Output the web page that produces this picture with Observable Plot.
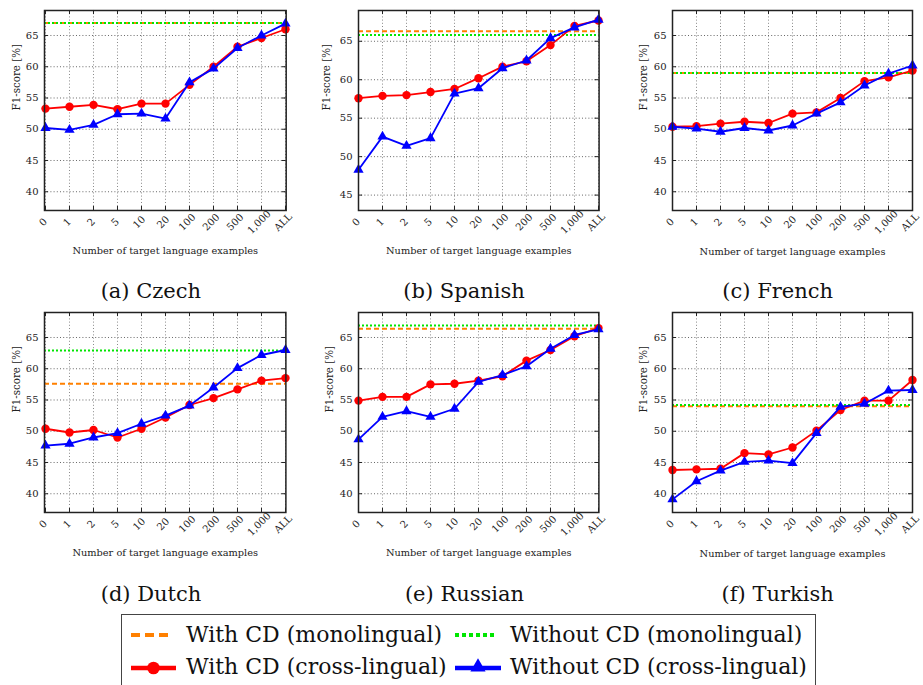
<!DOCTYPE html>
<html>
<head>
<meta charset="utf-8">
<script src="https://cdn.jsdelivr.net/npm/d3@7"></script>
<script src="https://cdn.jsdelivr.net/npm/@observablehq/plot@0.6"></script>
<style>
  html, body { margin: 0; padding: 0; background: #fff; }
  #page { position: relative; width: 923px; height: 685px; overflow: hidden; background: #fff; font-family: "DejaVu Serif", serif; color: #111; }
  .panel { position: absolute; }
  .caption { position: absolute; font-family: "DejaVu Serif", serif; font-size: 21px; color: #111; white-space: nowrap; transform: translate(-50%, -50%); }
  #legend { position: absolute; left: 121px; top: 614px; width: 695px; height: 90px; border: 1.3px solid #444; box-sizing: border-box; }
</style>
</head>
<body>
<div id="page"></div>
<script>
// ---------- data ----------
const xLabels = ["0", "1", "2", "5", "10", "20", "100", "200", "500", "1,000", "ALL"];
const languages = ["Czech", "Spanish", "French", "Dutch", "Russian", "Turkish"];
const panelLetters = ["a", "b", "c", "d", "e", "f"];

const czechWithCD      = [53.3, 53.6, 53.9, 53.2, 54.1, 54.1, 57.1, 60.0, 63.2, 64.6, 66.0];
const czechWithoutCD   = [50.2, 49.9, 50.7, 52.4, 52.5, 51.7, 57.5, 59.7, 63.0, 65.0, 66.9];
const spanishWithCD    = [57.6, 57.9, 58.0, 58.4, 58.8, 60.2, 61.7, 62.4, 64.5, 67.0, 67.7];
const spanishWithoutCD = [48.3, 52.6, 51.4, 52.4, 58.2, 58.9, 61.5, 62.5, 65.4, 66.8, 67.8];
const frenchWithCD     = [50.4, 50.5, 50.9, 51.2, 51.0, 52.5, 52.7, 55.0, 57.7, 58.3, 59.4];
const frenchWithoutCD  = [50.4, 50.1, 49.6, 50.2, 49.8, 50.6, 52.5, 54.3, 57.0, 58.9, 60.2];
const dutchWithCD      = [50.4, 49.8, 50.2, 49.0, 50.4, 52.2, 54.2, 55.3, 56.7, 58.1, 58.5];
const dutchWithoutCD   = [47.7, 48.0, 49.0, 49.7, 51.2, 52.5, 54.1, 57.0, 60.1, 62.2, 63.0];
const russianWithCD    = [54.9, 55.5, 55.5, 57.5, 57.6, 58.1, 58.8, 61.3, 63.0, 65.2, 66.5];
const russianWithoutCD = [48.7, 52.3, 53.2, 52.3, 53.6, 57.9, 59.0, 60.4, 63.2, 65.4, 66.3];
const turkishWithCD    = [43.8, 43.9, 44.0, 46.5, 46.3, 47.4, 50.1, 53.4, 54.9, 54.9, 58.2];
const turkishWithoutCD = [39.1, 42.0, 43.7, 45.1, 45.3, 44.9, 49.7, 53.9, 54.4, 56.5, 56.6];

// monolingual reference values per language (Czech, Spanish, French, Dutch, Russian, Turkish)
const monoWithCD    = [67.0, 66.3, 59.0, 57.6, 66.4, 54.0];
const monoWithoutCD = [67.0, 65.8, 59.0, 62.9, 66.9, 54.2];

const yTicksDefault = [40, 45, 50, 55, 60, 65];
const yTicksSpanish = [45, 50, 55, 60, 65];
const yDomainDefault = [37, 69];
const yDomainSpanish = [43, 69];

const xAxisLabel = "Number of target language examples";
const yAxisLabel = "F1-score [%]";
const legendLabels = ["With CD (monolingual)", "Without CD (monolingual)", "With CD (cross-lingual)", "Without CD (cross-lingual)"];

const withCDSeries = [czechWithCD, spanishWithCD, frenchWithCD, dutchWithCD, russianWithCD, turkishWithCD];
const withoutCDSeries = [czechWithoutCD, spanishWithoutCD, frenchWithoutCD, dutchWithoutCD, russianWithoutCD, turkishWithoutCD];

// ---------- style / layout ----------
const ORANGE = "#ff8000", GREEN = "#00e600", RED = "#ff0000", BLUE = "#0000ff";
const FONT = "DejaVu Serif";
const layout = [
  {left: 44,    top: 10,    fw: 241.7, ylabDx: -28},
  {left: 357.7, top: 10,    fw: 240.6, ylabDx: -32},
  {left: 671.7, top: 10,    fw: 240,   ylabDx: -29},
  {left: 44.3,  top: 311.7, fw: 241.4, ylabDx: -28},
  {left: 358.3, top: 311.7, fw: 240.4, ylabDx: -29},
  {left: 671.7, top: 311.7, fw: 240,   ylabDx: -29}
];
const FH = 200, ML = 46, MT = 10, MB = 54, MR = 11;

const page = document.getElementById("page");

languages.forEach((lang, i) => {
  const L = layout[i];
  const yTicks = i === 1 ? yTicksSpanish : yTicksDefault;
  const yDomain = i === 1 ? yDomainSpanish : yDomainDefault;
  const rows = xLabels.map((x, j) => ({x, withCD: withCDSeries[i][j], withoutCD: withoutCDSeries[i][j]}));
  const fw = L.fw;

  const chart = Plot.plot({
    width: ML + fw + MR,
    height: MT + FH + MB,
    marginLeft: ML, marginRight: MR, marginTop: MT, marginBottom: MB,
    style: {fontFamily: FONT, fontSize: "10px", color: "#222", background: "transparent", overflow: "visible"},
    x: {type: "point", domain: xLabels, padding: 0, axis: null},
    y: {domain: yDomain, axis: null, label: null},
    marks: [
      Plot.ruleX(xLabels, {x: d => d, stroke: "#888", strokeDasharray: "1,2.2", strokeWidth: 1}),
      Plot.ruleY(yTicks, {y: d => d, stroke: "#666", strokeDasharray: "1,2.2", strokeWidth: 1}),
      Plot.tickY(yTicks, {y: d => d, insetRight: fw - 4, stroke: "#222", strokeWidth: 1}),
      Plot.tickY(yTicks, {y: d => d, insetLeft: fw - 4, stroke: "#222", strokeWidth: 1}),
      Plot.tickX(xLabels, {x: d => d, insetTop: FH - 4, stroke: "#222", strokeWidth: 1}),
      Plot.tickX(xLabels, {x: d => d, insetBottom: FH - 4, stroke: "#222", strokeWidth: 1}),
      Plot.ruleY([monoWithCD[i]], {stroke: ORANGE, strokeWidth: 2, strokeDasharray: "5,3"}),
      Plot.ruleY([monoWithoutCD[i]], {stroke: GREEN, strokeWidth: 2, strokeDasharray: "2,2"}),
      Plot.line(rows, {x: "x", y: "withCD", stroke: RED, strokeWidth: 1.8}),
      Plot.dot(rows, {x: "x", y: "withCD", fill: RED, r: 4.2, stroke: "none"}),
      Plot.line(rows, {x: "x", y: "withoutCD", stroke: BLUE, strokeWidth: 1.8}),
      Plot.dot(rows, {x: "x", y: "withoutCD", fill: BLUE, symbol: "triangle", r: 3.8, stroke: "none"}),
      Plot.frame({stroke: "#222", strokeWidth: 1.5}),
      Plot.axisY(yTicks, {tickSize: 0, tickPadding: 6, fontSize: 10, label: null, fill: "#222"}),
      Plot.text(xLabels, {x: d => d, text: d => d, frameAnchor: "bottom", dy: 14, rotate: -45, fontSize: 10, fill: "#222"}),
      Plot.text([xAxisLabel], {text: d => d, frameAnchor: "bottom", dy: 44, fontSize: 9.8, fill: "#222"}),
      Plot.text([yAxisLabel], {text: d => d, frameAnchor: "left", dx: L.ylabDx, rotate: -90, fontSize: 10.3, fill: "#222"})
    ]
  });
  chart.classList.add("panel");
  chart.style.left = (L.left - ML) + "px";
  chart.style.top = (L.top - MT) + "px";
  page.appendChild(chart);

  const cap = document.createElement("div");
  cap.className = "caption";
  cap.textContent = `(${panelLetters[i]}) ${lang}`;
  cap.style.left = (L.left + fw / 2 - 14) + "px";
  cap.style.top = (L.top + (i < 3 ? 281 : 282)) + "px";
  page.appendChild(cap);
});

// ---------- legend ----------
const legend = document.createElement("div");
legend.id = "legend";
const NS = "http://www.w3.org/2000/svg";
const lsvg = document.createElementNS(NS, "svg");
lsvg.setAttribute("width", 695);
lsvg.setAttribute("height", 90);
lsvg.style.position = "absolute";
lsvg.style.left = "-1.3px";
lsvg.style.top = "-1.3px";
function el(tag, attrs, parent) {
  const e = document.createElementNS(NS, tag);
  for (const k in attrs) e.setAttribute(k, attrs[k]);
  (parent || lsvg).appendChild(e);
  return e;
}
const row1 = 21, row2 = 54;
el("line", {x1: 10, x2: 52, y1: row1, y2: row1, stroke: ORANGE, "stroke-width": 4, "stroke-dasharray": "9,5"});
el("line", {x1: 334, x2: 376, y1: row1, y2: row1, stroke: GREEN, "stroke-width": 4, "stroke-dasharray": "4,3"});
el("line", {x1: 10, x2: 55, y1: row2, y2: row2, stroke: RED, "stroke-width": 4.5});
el("circle", {cx: 32.5, cy: row2, r: 6.3, fill: RED});
el("line", {x1: 334, x2: 380, y1: row2, y2: row2, stroke: BLUE, "stroke-width": 4.5});
el("path", {d: d3.symbol(d3.symbolTriangle, 100)(), transform: `translate(357,${row2 - 1})`, fill: BLUE});
const textPos = [[65, 28], [389, 28], [65, 59.5], [389, 59.5]];
legendLabels.forEach((t, k) => {
  const tx = el("text", {x: textPos[k][0], y: textPos[k][1], "font-family": FONT, "font-size": 22, fill: "#111"});
  tx.textContent = t;
});
legend.appendChild(lsvg);
page.appendChild(legend);
</script>
</body>
</html>
